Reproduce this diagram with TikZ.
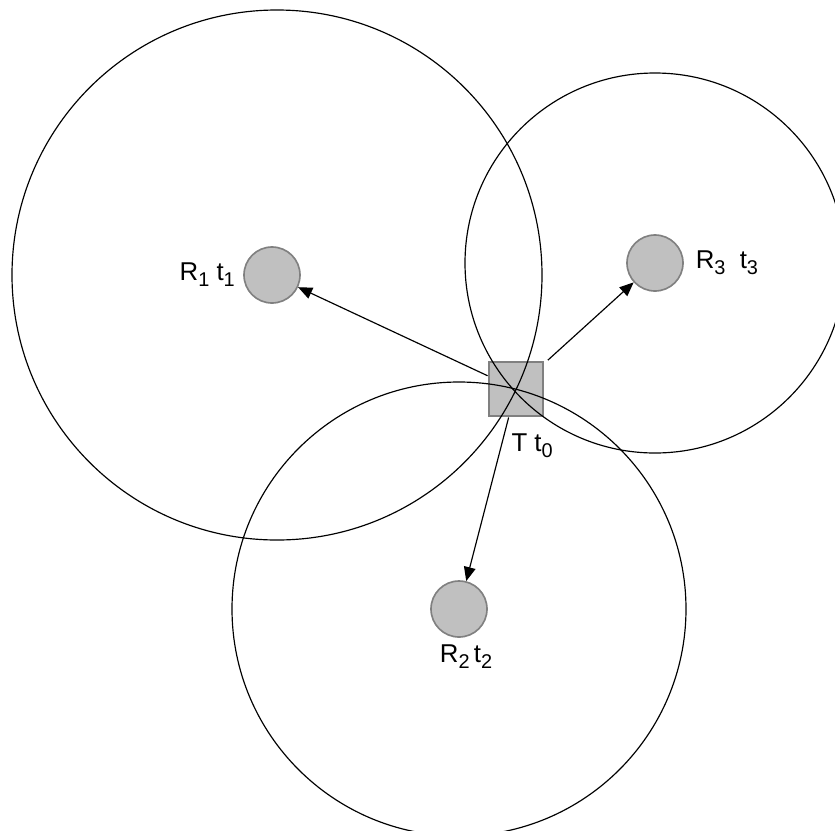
\documentclass[tikz,border=0pt]{standalone}
\usepackage{fontspec}
\setmainfont{Liberation Sans}
\usepackage{tikz}
\usetikzlibrary{arrows.meta,positioning,calc}
\definecolor{rxfill}{RGB}{192,192,192}
\definecolor{rxedge}{RGB}{128,128,128}
\newcommand{\lsub}[1]{\raisebox{-5pt}{\fontsize{17}{17}\selectfont #1}}

\begin{document}
\begin{tikzpicture}[x=0.03cm,y=-0.03cm,font=\fontsize{22}{26}\selectfont,
  rx/.style={circle,draw=rxedge,fill=rxfill,line width=1.4pt,minimum size=1.68cm,inner sep=0pt},
  tx/.style={rectangle,draw=rxedge,fill=rxfill,line width=2.4pt,minimum size=1.62cm,inner sep=0pt},
  lbl/.style={inner sep=1pt},
  rangering/.style={line width=1pt},
  arr/.style={-{Triangle[length=12pt,width=10pt]},line width=1pt}]
\useasboundingbox (0,0) rectangle (835,830);
\clip (0,0) rectangle (835,830);
\node[tx] (T) at (516,389) {};
\node[rx] (R1) at (272,275) {};
\node[rx] (R2) at (459,609) {};
\node[rx] (R3) at (655,263) {};
\node[lbl,left=6pt of R1] (l1) {R\lsub{1} t\lsub{1}};
\node[lbl,below=5pt of R2,xshift=6pt] (l2) {R\lsub{2}\,t\lsub{2}};
\node[lbl,right=9pt of R3] (l3) {R\lsub{3}\ \ t\lsub{3}};
\node[lbl,below right=13pt and -5pt of T.south] (l0) {T t\lsub{0}};
% ranges through the transmitter
\draw[rangering] ($(R1)+(5,0)$) circle (265);
\draw[rangering] (R2) circle (227);
\draw[rangering] (R3) circle (190);
\draw[arr] (T) -- (R1);
\draw[arr] (T) -- (R2);
\draw[arr,shorten <=4pt] (T) -- (R3);
\end{tikzpicture}
\end{document}
